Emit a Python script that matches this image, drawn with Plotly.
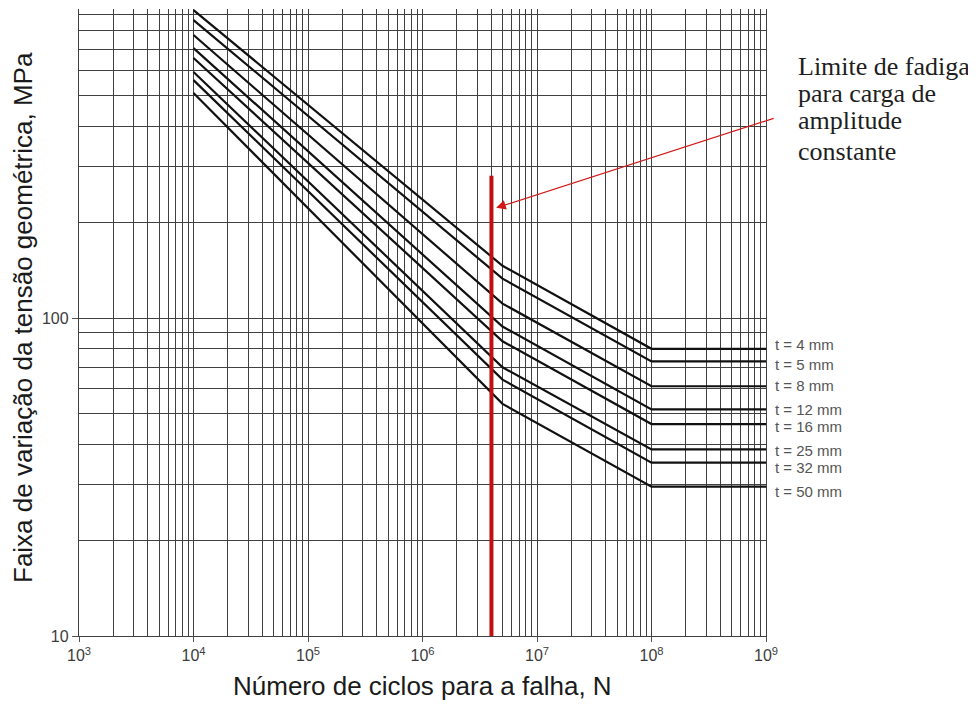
import math
import plotly.graph_objects as go

# ---- data ----
thickness_labels = ["t = 4 mm", "t = 5 mm", "t = 8 mm", "t = 12 mm",
                    "t = 16 mm", "t = 25 mm", "t = 32 mm", "t = 50 mm"]
cycles = [1e4, 5e6, 1e8, 1e9]
stress_at_1e4 = [930, 865, 776, 706, 657, 594, 560, 510]
stress_at_knee = [146, 133, 111, 94, 84.5, 70, 64, 53.7]
stress_at_cutoff = [80, 73, 61, 51.6, 46.4, 38.6, 35.1, 29.5]

limit_cycles = [4e6, 4e6]
limit_stress = [10, 280]

arrow_head = (4.4e6, 222)      # (N, MPa)
annotation_lines = ["Limite de fadiga", "para carga de", "amplitude", "constante"]

x_decades = [3, 4, 5, 6, 7, 8, 9]
x_tick_labels = ["10<sup>3</sup>", "10<sup>4</sup>", "10<sup>5</sup>", "10<sup>6</sup>",
                 "10<sup>7</sup>", "10<sup>8</sup>", "10<sup>9</sup>"]
y_decades = [1, 2, 3]
y_tick_labels = ["10", "100", "1000"]

# ---- styling / layout constants ----
# the page body adds an 8 px margin, so the figure is laid out 8 px smaller
OFF = 8
FIG_W, FIG_H = 976 - OFF, 704 - OFF
PLOT_L, PLOT_R, PLOT_T, PLOT_B = 79 - OFF, 766 - OFF, 9 - OFF, 636 - OFF
PW, PH = PLOT_R - PLOT_L, PLOT_B - PLOT_T


def px_to_paper_x(px):
    return (px - OFF - PLOT_L) / PW


def px_to_paper_y(py):
    return (PLOT_B - (py - OFF)) / PH


label_yshift = [4, -3, 1, 0, -2, -1, -5, -5]
grid_color = "#404040"
curve_color = "#111111"

fig = go.Figure()

for lab, s0, sk, sc in zip(thickness_labels, stress_at_1e4, stress_at_knee, stress_at_cutoff):
    fig.add_trace(go.Scatter(
        x=cycles, y=[s0, sk, sc, sc], mode="lines", name=lab,
        line=dict(color=curve_color, width=2.2), showlegend=False, hoverinfo="skip"))

fig.add_trace(go.Scatter(
    x=limit_cycles, y=limit_stress, mode="lines",
    line=dict(color="#c01010", width=4), showlegend=False, hoverinfo="skip"))

x_minor = [d * 10 ** e for e in x_decades[:-1] for d in range(2, 10)]
y_minor = [d * 10 ** e for e in y_decades[:-1] for d in range(2, 10)]

tick_font = dict(family="Liberation Sans, Arial", size=16, color="#3c3c3c")

fig.update_xaxes(
    type="log", range=[3, 9],
    tickvals=[10 ** e for e in x_decades], ticktext=x_tick_labels,
    showgrid=True, gridcolor=grid_color, gridwidth=1.4,
    minor=dict(tickvals=x_minor, showgrid=True, gridcolor=grid_color, gridwidth=1.4, ticks=""),
    showline=True, linecolor=grid_color, linewidth=1.4,
    ticks="outside", ticklen=5, tickcolor="#555", tickfont=tick_font,
    zeroline=False)

fig.update_yaxes(
    type="log", range=[1, math.log10(937)],
    tickvals=[10 ** e for e in y_decades], ticktext=y_tick_labels,
    showgrid=True, gridcolor=grid_color, gridwidth=1.4,
    minor=dict(tickvals=y_minor, showgrid=True, gridcolor=grid_color, gridwidth=1.4, ticks=""),
    showline=True, linecolor=grid_color, linewidth=1.4, mirror=True,
    ticks="outside", ticklen=6, tickcolor="#555", tickfont=tick_font,
    zeroline=False)

# thickness labels
for lab, sc, ys in zip(thickness_labels, stress_at_cutoff, label_yshift):
    fig.add_annotation(x=9, y=math.log10(sc), xref="x", yref="y", text=lab,
                       showarrow=False, xanchor="left", yanchor="middle",
                       xshift=7, yshift=ys,
                       font=dict(family="Liberation Sans, Arial", size=15, color="#555"))

# red arrow
fig.add_annotation(x=math.log10(arrow_head[0]), y=math.log10(arrow_head[1]),
                   xref="x", yref="y", text="", showarrow=True,
                   ax=279, ay=-90, axref="pixel", ayref="pixel",
                   arrowhead=2, arrowsize=1.6, arrowwidth=1.2, arrowcolor="#d01818",
                   standoff=0)

# side text
line_y_px = [66, 93, 121, 151]
for txt, ypx in zip(annotation_lines, line_y_px):
    fig.add_annotation(x=px_to_paper_x(796), y=px_to_paper_y(ypx), xref="paper", yref="paper",
                       text=txt, showarrow=False, xanchor="left", yanchor="middle",
                       font=dict(family="Liberation Serif, Times New Roman", size=26, color="#1e1e1e"))

# axis titles
title_font = dict(family="Liberation Sans, Arial", size=26, color="#1a1a1a")
fig.add_annotation(x=0.5, y=px_to_paper_y(686), xref="paper", yref="paper",
                   text="Número de ciclos para a falha, N", showarrow=False,
                   xanchor="center", yanchor="middle", font=title_font)
fig.add_annotation(x=px_to_paper_x(23), y=px_to_paper_y(318), xref="paper", yref="paper",
                   text="Faixa de variação da tensão geométrica, MPa", showarrow=False,
                   textangle=-90, xanchor="center", yanchor="middle", font=title_font)

fig.update_layout(
    width=FIG_W, height=FIG_H, autosize=False,
    margin=dict(l=PLOT_L, r=FIG_W - PLOT_R, t=PLOT_T, b=FIG_H - PLOT_B),
    paper_bgcolor="white", plot_bgcolor="white",
    showlegend=False)

fig.write_html("out.html")
